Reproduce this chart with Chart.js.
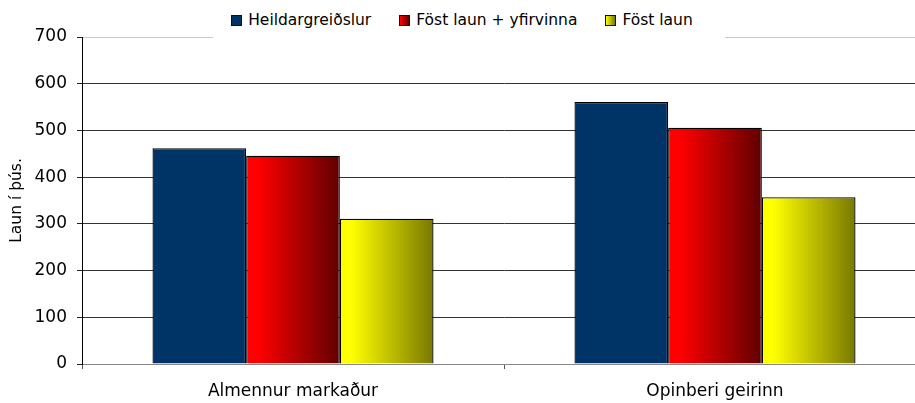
<!DOCTYPE html>
<html>
<head>
<meta charset="utf-8">
<title>Laun</title>
<script src="https://cdn.jsdelivr.net/npm/chart.js@4.4.0/dist/chart.umd.min.js"></script>
<style>
  html, body { margin: 0; padding: 0; background: #fff; overflow: hidden; }
  #wrap { position: relative; width: 930px; height: 403px; }
  #legend {
    position: absolute; left: 213px; top: 0; width: 498px; height: 40px;
    padding-right: 14px; background: #fff;
    display: flex; justify-content: center; align-items: center; gap: 28px;
    font: 15.5px 'DejaVu Sans', sans-serif; color: #000;
  }
  #legend .item { display: flex; align-items: center; white-space: nowrap; }
  #legend .box { width: 9px; height: 9px; border: 1px solid #111; margin-right: 6px; }
</style>
</head>
<body>
<div id="wrap">
  <canvas id="barChart"></canvas>
  <div id="legend"></div>
</div>
<script>
  // Gögn
  const categories = ['Almennur markaður', 'Opinberi geirinn'];
  const seriesNames = ['Heildargreiðslur', 'Föst laun + yfirvinna', 'Föst laun'];
  const heildar = [462, 561];
  const yfirvinna = [446, 506];
  const fostLaun = [311, 357];
  const yTicks = [0, 100, 200, 300, 400, 500, 600, 700];

  // Litir: [ljós vinstra megin, dökkur hægra megin]
  const colors = [
    ['#003366', '#003366'],
    ['#ff0000', '#600000'],
    ['#ffff00', '#787800'],
  ];
  const catPct = 0.666;

  Chart.defaults.font.family = "'DejaVu Sans', sans-serif";
  Chart.defaults.font.size = 17;
  Chart.defaults.color = '#000';

  // Halli yfir hverja súlu, reiknaður út frá x-ásnum
  function barFill(ctx) {
    const c = colors[ctx.datasetIndex];
    const chart = ctx.chart;
    const x = chart.scales.x;
    if (ctx.type !== 'data' || !x || !chart.chartArea || c[0] === c[1]) return c[0];
    const barW = (x.width / categories.length) * catPct / seriesNames.length;
    const left = x.getPixelForValue(ctx.dataIndex) - barW * seriesNames.length / 2 + ctx.datasetIndex * barW;
    const g = chart.ctx.createLinearGradient(left, 0, left + barW, 0);
    g.addColorStop(0, c[0]);
    g.addColorStop(0.12, c[0]);
    g.addColorStop(1, c[1]);
    return g;
  }

  const values = [heildar, yfirvinna, fostLaun];
  const barCtx = document.getElementById('barChart').getContext('2d');
  const barChart = new Chart(barCtx, {
    type: 'bar',
    data: {
      labels: categories,
      datasets: seriesNames.map((name, i) => ({
        label: name,
        data: values[i],
        backgroundColor: barFill,
        borderColor: '#000',
        borderWidth: 1.3,
        barPercentage: 1,
        categoryPercentage: catPct,
      })),
    },
    options: {
      responsive: true,
      maintainAspectRatio: false,
      animation: false,
      layout: { padding: { top: 37, left: 0, right: 4, bottom: 0 } },
      plugins: {
        legend: { display: false },
        tooltip: { enabled: false },
      },
      scales: {
        x: {
          grid: { display: true, drawOnChartArea: false, offset: true, tickLength: 5, color: '#555' },
          border: { color: '#888' },
          ticks: { padding: 12 },
          afterFit: axis => { axis.height = 39; },
        },
        y: {
          min: 0,
          max: yTicks[yTicks.length - 1],
          afterBuildTicks: axis => { axis.ticks = yTicks.map(v => ({ value: v })); },
          afterFit: axis => { axis.width = 82; },
          grid: {
            color: c => c.tick.value === 700 ? '#c8c8c8' : (c.tick.value === 0 ? '#888' : '#333'),
            tickColor: '#222',
            tickLength: 5,
          },
          border: { color: '#000' },
          ticks: { padding: 10 },
          title: {
            display: true,
            text: 'Laun í þús.',
            font: { size: 15.5 },
            padding: { top: 8, bottom: 0 },
          },
        },
      },
    },
  });

  // Skýringar
  const legend = document.getElementById('legend');
  seriesNames.forEach((name, i) => {
    const item = document.createElement('span');
    item.className = 'item';
    const box = document.createElement('span');
    box.className = 'box';
    box.style.background = `linear-gradient(to right, ${colors[i][0]}, ${colors[i][1]})`;
    item.appendChild(box);
    item.appendChild(document.createTextNode(name));
    legend.appendChild(item);
  });
</script>
</body>
</html>
